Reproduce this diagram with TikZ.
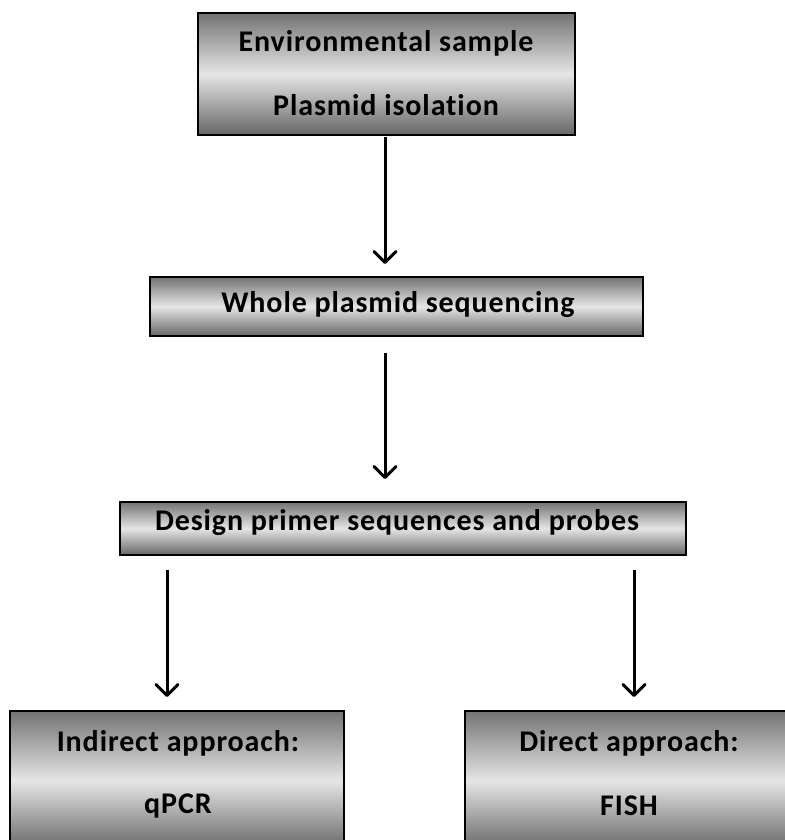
\documentclass[tikz,border=0pt]{standalone}
\usepackage{fontspec}
\setmainfont{Carlito}[LetterSpace=3,Ligatures=NoCommon]
\usetikzlibrary{arrows.meta}
\tikzset{
  gbox/.style={draw=black, line width=2pt, top color=gray!90!black, bottom color=gray!80!black, middle color=white!90!black, inner sep=0pt},
  lbl/.style={font=\bfseries\fontsize{30}{34}\selectfont, inner sep=0pt, anchor=center},
  arr/.style={line width=3pt, -{Straight Barb[length=11pt,width=22pt,line width=3pt,round]}}
}
\begin{document}
\begin{tikzpicture}[x=1pt,y=-1pt]
\useasboundingbox (0,0) rectangle (784,840);
\fill[white] (0,0) rectangle (784,840);
% boxes
\shade[gbox] (198,13) rectangle (575,135);
\node[lbl] (b1a) at (386,43) {Environmental sample};
\node[lbl] (b1b) at (386,105) {Plasmid isolation};
\coordinate (b1s) at (385,137);
\coordinate (b1e) at (385,264);

\shade[gbox] (150,277) rectangle (643,336);
\node[lbl] (b2) at (398,305) {Whole plasmid sequencing};
\coordinate (b2s) at (385,353);
\coordinate (b2e) at (385,479);

\shade[gbox] (120,502) rectangle (686,555);
\node[lbl] (b3) at (397,523) {Design primer sequences and probes};
\coordinate (b3l) at (167,570);
\coordinate (b3le) at (167,697);
\coordinate (b3r) at (634,570);
\coordinate (b3re) at (634,697);

\shade[gbox] (10,711) rectangle (344,850);
\node[lbl] (b4a) at (178,743) {Indirect approach:};
\node[lbl] (b4b) at (178,806) {qPCR};

\shade[gbox] (465,711) rectangle (800,850);
\node[lbl] (b5a) at (629,743) {Direct approach:};
\node[lbl] (b5b) at (629,806) {FISH};

\draw[arr] (b1s) -- (b1e);
\draw[arr] (b2s) -- (b2e);
\draw[arr] (b3l) -- (b3le);
\draw[arr] (b3r) -- (b3re);
\end{tikzpicture}
\end{document}
